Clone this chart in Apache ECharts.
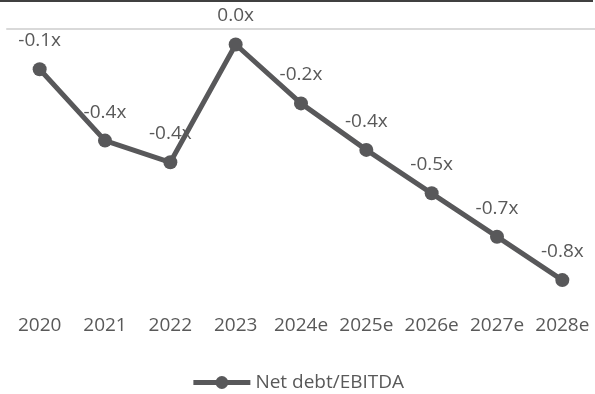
<!DOCTYPE html>
<html>
<head>
<meta charset="utf-8">
<script src="https://cdn.jsdelivr.net/npm/echarts@6/dist/echarts.min.js"></script>
<style>
  html, body { margin: 0; padding: 0; background: #fff; }
  #chart { width: 595px; height: 394px; }
</style>
</head>
<body>
<div id="chart"></div>
<script>
// categories and net debt / EBITDA values
const years = ['2020', '2021', '2022', '2023', '2024e', '2025e', '2026e', '2027e', '2028e']
const netDebtEbitda = [-0.13, -0.36, -0.43, -0.05, -0.24, -0.39, -0.53, -0.67, -0.81]
const seriesName = 'Net debt/EBITDA'

const textColor = '#595959'
const lineColor = '#58585a'
const font = 'Open Sans'
const fontSize = 19

const chart = echarts.init(document.getElementById('chart'))

// label like excel: one decimal + x, no "-0.0"
const fmt = (v) => (Math.round(v * 10) / 10 + 0).toFixed(1) + 'x'

const option = {
  animation: false,
  textStyle: { fontFamily: font },
  grid: { left: 7, right: -2, top: 29, bottom: 86 },
  graphic: [
    {
      type: 'line',
      shape: { x1: 0, y1: 1, x2: 593, y2: 1 },
      style: { stroke: '#404040', lineWidth: 2 },
    },
  ],
  legend: {
    bottom: -3,
    left: 'center',
    itemWidth: 57,
    itemHeight: 16,
    itemGap: 10,
    lineStyle: { width: 5 },
    textStyle: { color: textColor, fontSize: fontSize, fontFamily: font },
    data: [seriesName],
  },
  xAxis: [
    {
      // zero line at top of plot
      type: 'category',
      position: 'top',
      data: years,
      axisLine: { show: true, onZero: false, lineStyle: { color: '#d9d9d9', width: 2 } },
      axisTick: { show: false },
      axisLabel: { show: false },
    },
    {
      type: 'category',
      position: 'bottom',
      data: years,
      axisLine: { show: false, onZero: false },
      axisTick: { show: false },
      axisLabel: {
        interval: 0,
        margin: 8,
        color: textColor,
        fontSize: fontSize,
        fontFamily: font,
      },
    },
  ],
  yAxis: {
    type: 'value',
    min: -0.9,
    max: 0,
    show: false,
    splitLine: { show: false },
  },
  series: [
    {
      name: seriesName,
      type: 'line',
      xAxisIndex: 1,
      data: netDebtEbitda,
      symbol: 'circle',
      symbolSize: 14,
      color: lineColor,
      lineStyle: { width: 5, color: lineColor },
      itemStyle: { color: lineColor },
      label: {
        show: true,
        position: 'top',
        distance: 12,
        color: textColor,
        fontSize: fontSize,
        fontFamily: font,
        formatter: (p) => fmt(p.value),
      },
    },
  ],
}

chart.setOption(option)
</script>
</body>
</html>
